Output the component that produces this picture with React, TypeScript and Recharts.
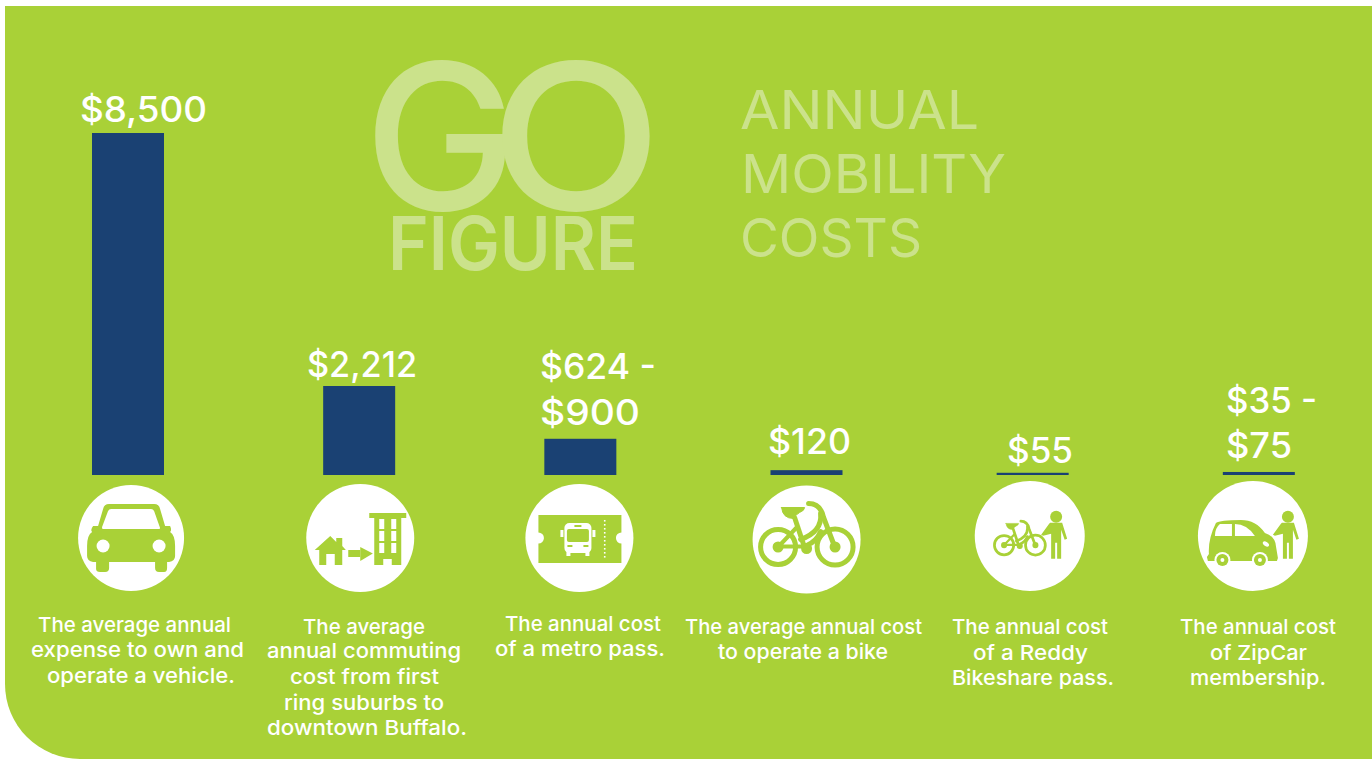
import { Bar, BarChart, LabelList, XAxis, YAxis } from "recharts";

const GREEN = "#a9d137";
const PALE = "#cbe28b";
const NAVY = "#1a4173";
const FONT = "Inter, sans-serif";

const categories = ["vehicle", "commute", "metro", "bike", "bikeshare", "zipcar"];
const barTops = [8500, 2212, 900, 120, 55, 75];
const valueLines = [["$8,500"], ["$2,212"], ["$624 -", "$900"], ["$120"], ["$55"], ["$35 -", "$75"]];
const captions = [
  ["The average annual", "expense to own and", "operate a vehicle."],
  ["The average", "annual commuting", "cost from first", "ring suburbs to", "downtown Buffalo."],
  ["The annual cost", "of a metro pass."],
  ["The average annual cost", "to operate a bike"],
  ["The annual cost", "of a Reddy", "Bikeshare pass."],
  ["The annual cost", "of ZipCar", "membership."],
];

const data = categories.map((name, i) => ({ name, top: barTops[i] }));

// hand placement, the original is a designed graphic and not quite on a grid
const barNudge = [0, 5, 0, 0, 0, 0];
const valueLayout = [
  { x: [80], w: [127], y: [122] },
  { x: [307], w: [110], y: [377] },
  { x: [540, 540], w: [116, 100], y: [379, 425] },
  { x: [768], w: [83], y: [454] },
  { x: [1007], w: [66], y: [463] },
  { x: [1226, 1226], w: [91, 66], y: [413, 458] },
];
const iconLayout = [
  { dx: 3, y: 538, r: 53 },
  { dx: 6, y: 538, r: 54 },
  { dx: -1, y: 538, r: 54 },
  { dx: 0, y: 539.5, r: 54 },
  { dx: -3, y: 536, r: 55 },
  { dx: -6, y: 536, r: 55 },
];
const captionLayout = [
  { x: [38, 31, 47], w: [193, 213, 188], y: [632, 657, 683] },
  { x: [303, 267, 290, 284, 267], w: [122, 194, 149, 160, 200], y: [634, 658, 684, 710, 735] },
  { x: [505, 495], w: [156, 170], y: [631, 656] },
  { x: [685, 718], w: [237, 170], y: [634, 659] },
  { x: [952, 973, 952], w: [156, 115, 162], y: [634, 660, 685] },
  { x: [1180, 1210, 1190], w: [156, 97, 136], y: [634, 660, 685] },
];

function CarIcon() {
  return (
    <g>
      <path
        fill={GREEN}
        d="M-22 -34Q-27 -34 -28 -29L-33 -12L-38 -12Q-41 -8 -39 -6Q-44 -3 -44 8L-44 18Q-44 23 -38 24L-35 24L-35 31Q-35 34 -31 34L-26 34Q-22 34 -22 30L-22 24L24 24L24 30Q24 34 28 34L33 34Q36 34 36 30L36 24L38 24Q44 23 44 18L44 8Q44 -3 39 -6Q41 -8 39 -12L34 -12L29 -29Q28 -34 23 -34Z"
      />
      <path fill="#fff" d="M-20 -29L20 -29Q22 -29 23 -27L29 -10Q29 -9 28 -9L-28 -9Q-29.5 -9 -29 -11L-23 -27Q-22 -29 -20 -29Z" />
      <circle cx={-28} cy={8} r={6.5} fill="#fff" />
      <circle cx={28} cy={8} r={6.5} fill="#fff" />
    </g>
  );
}

function CommuteIcon() {
  const cols = [19, 31];
  const rows = [-19, -7, 5];
  return (
    <g fill={GREEN}>
      <rect x={9} y={-25} width={37} height={5} />
      <rect x={14} y={-20} width={27} height={47} />
      {cols.map((x) => rows.map((y) => <rect key={`${x}${y}`} x={x} y={y} width={5} height={10} fill="#fff" />))}
      <rect x={23} y={21} width={8.5} height={6} fill="#fff" />
      <rect x={-12} y={12} width={12} height={7} />
      <path d="M0 9L12.6 15.5L0 23Z" />
      <path d="M-30 -2L-24 4L-24 0L-18 0L-18 8L-14.4 12L-18 12L-18 27L-25.5 27L-25.5 16L-34 16L-34 27L-41 27L-41 12L-45.5 12Z" />
    </g>
  );
}

function TicketIcon() {
  const dots = [-18, -14, -10, -6, -2, 2, 6, 10, 14, 18];
  return (
    <g>
      <rect x={-41} y={-23} width={83} height={48} fill={GREEN} />
      <circle cx={-41} cy={0} r={5.5} fill="#fff" />
      <circle cx={42} cy={0} r={5.5} fill="#fff" />
      <rect x={-15} y={-15} width={27} height={30} rx={5} fill="#fff" />
      <rect x={-13} y={14} width={4} height={4} fill="#fff" />
      <rect x={6} y={14} width={4} height={4} fill="#fff" />
      <rect x={-19} y={-8} width={3} height={7} fill="#fff" />
      <rect x={13} y={-8} width={3} height={7} fill="#fff" />
      <rect x={-12.5} y={-9} width={22} height={13} rx={2} fill={GREEN} />
      <rect x={-5} y={-13} width={7} height={2} fill={GREEN} />
      <rect x={-12} y={7} width={5} height={2} fill={GREEN} />
      <rect x={4} y={7} width={5} height={2} fill={GREEN} />
      {dots.map((y) => (
        <rect key={y} x={24.5} y={y} width={1.6} height={1.6} fill="#fff" />
      ))}
    </g>
  );
}

function BikeIcon() {
  return (
    <g fill="none" stroke={GREEN} strokeLinecap="round">
      <circle cx={-28.5} cy={7.5} r={17.5} strokeWidth={5} />
      <circle cx={28.5} cy={7.5} r={18} strokeWidth={5} />
      <circle cx={-28.5} cy={7.5} r={4} fill={GREEN} strokeWidth={3} />
      <circle cx={28.5} cy={7.5} r={4} fill={GREEN} strokeWidth={3} />
      <path d="M2 -36Q14 -36 17 -22L28 7" strokeWidth={5} />
      <path d="M-12 -22L-3 5" strokeWidth={5} />
      <path d="M14 -26Q16 -8 -6 0" strokeWidth={5} />
      <path d="M14 -8Q10 2 0 6" strokeWidth={5} />
      <path d="M-28 7L-10 -12M-28 7L-4 7" strokeWidth={4} />
      <path d="M-25 -32L-2 -32Q-2 -29 -7 -27Q-12 -24 -13 -21Q-24 -21 -25 -32Z" fill={GREEN} strokeWidth={1} />
      <circle cx={0} cy={9} r={4.5} fill={GREEN} strokeWidth={2} />
    </g>
  );
}

function PersonIcon() {
  return (
    <g fill={GREEN}>
      <circle cx={0} cy={0} r={6} />
      <path d="M-6 6L6 6L11 22L8.5 23L5 13L5 24L5 42L1 42L1 26L-1 26L-1 42L-5 42L-5 17L-13 19L-15 18L-7 7Z" />
    </g>
  );
}

function ZipCarIcon() {
  return (
    <g>
      <path fill={GREEN} d="M-37 -13Q-33 -16 -12 -16Q3 -16 12 -3Q22 0 23 10L25 22L24 25L-45 25L-46 21L-44 18Q-45 3 -37 -13Z" />
      <path fill="#fff" d="M-33 -12L-21 -12L-21 0L-38 0Q-38 -8 -33 -12Z" />
      <path fill="#fff" d="M-18 -12Q-6 -12 2 0L-18 0Z" />
      <ellipse cx={13} cy={8} rx={3.5} ry={2} fill="#fff" transform="rotate(35 13 8)" />
      {[-30.5, 7].map((x) => (
        <g key={x}>
          <circle cx={x} cy={24} r={8} fill="#fff" />
          <circle cx={x} cy={24} r={6} fill={GREEN} />
          <circle cx={x} cy={24} r={2} fill="#fff" />
        </g>
      ))}
    </g>
  );
}

function TickIcon({ index }: { index: number }) {
  if (index === 0) return <CarIcon />;
  if (index === 1) return <CommuteIcon />;
  if (index === 2) return <TicketIcon />;
  if (index === 3) return <BikeIcon />;
  if (index === 4)
    return (
      <g>
        <g transform="translate(-10 5) scale(0.55)">
          <BikeIcon />
        </g>
        <g transform="translate(26.4 -19.3)">
          <PersonIcon />
        </g>
      </g>
    );
  return (
    <g>
      <ZipCarIcon />
      <g transform="translate(35 -19.3)">
        <PersonIcon />
      </g>
    </g>
  );
}

function CategoryTick(props: any) {
  const { x, index } = props;
  const icon = iconLayout[index];
  const cap = captionLayout[index];
  return (
    <g>
      <g transform={`translate(${x + icon.dx} ${icon.y})`}>
        <circle r={icon.r} fill="#fff" />
        <TickIcon index={index} />
      </g>
      {captions[index].map((line, i) => (
        <text
          key={line}
          x={cap.x[i]}
          y={cap.y[i]}
          textLength={cap.w[i]}
          lengthAdjust="spacingAndGlyphs"
          fill="#fff"
          fontFamily={FONT}
          fontSize={20.5}
          fontWeight={500}
        >
          {line}
        </text>
      ))}
    </g>
  );
}

function ValueLabel(props: any) {
  const { index } = props;
  const layout = valueLayout[index];
  return (
    <g>
      {valueLines[index].map((line, i) => (
        <text
          key={line}
          x={layout.x[i]}
          y={layout.y[i]}
          textLength={layout.w[i]}
          lengthAdjust="spacingAndGlyphs"
          fill="#fff"
          fontFamily={FONT}
          fontSize={35}
          fontWeight={500}
        >
          {line}
        </text>
      ))}
    </g>
  );
}

function NudgedBar(props: any) {
  const { x, y, width, height, index, fill } = props;
  return <rect x={x + barNudge[index]} y={y} width={width} height={height} fill={fill} />;
}

function Heading() {
  return (
    <svg width={1372} height={759} style={{ position: "absolute", left: 0, top: 0 }} fontFamily={FONT} fill={PALE}>
      <text x={364} y={210} fontSize={204} fontWeight={500} textLength={153} lengthAdjust="spacingAndGlyphs">G</text>
      <text x={490} y={210} fontSize={204} fontWeight={500} textLength={172} lengthAdjust="spacingAndGlyphs">O</text>
      <text x={388} y={270} fontSize={74} fontWeight={600} textLength={250} lengthAdjust="spacingAndGlyphs">FIGURE</text>
      <text x={740} y={129} fontSize={54} fontWeight={400} textLength={239} lengthAdjust="spacingAndGlyphs">ANNUAL</text>
      <text x={741} y={193} fontSize={54} fontWeight={400} textLength={265} lengthAdjust="spacingAndGlyphs">MOBILITY</text>
      <text x={740} y={257} fontSize={54} fontWeight={400} textLength={182} lengthAdjust="spacingAndGlyphs">COSTS</text>
    </svg>
  );
}

export default function App() {
  return (
    <div style={{ position: "absolute", left: 0, top: 0, width: 1372, height: 759, background: "#fff", overflow: "hidden" }}>
      <div style={{ position: "absolute", left: 5, top: 6, width: 1367, height: 753, background: GREEN, borderBottomLeftRadius: 75 }} />
      <Heading />
      <div style={{ position: "absolute", left: 0, top: 0 }}>
        <BarChart width={1372} height={759} data={data} margin={{ top: 133, right: 0, bottom: 0, left: 15 }} barSize={72}>
          <XAxis dataKey="name" height={284} interval={0} axisLine={false} tickLine={false} tick={<CategoryTick />} />
          <YAxis hide domain={[0, 8500]} />
          <Bar dataKey="top" fill={NAVY} isAnimationActive={false} shape={<NudgedBar />}>
            <LabelList dataKey="top" content={<ValueLabel />} />
          </Bar>
        </BarChart>
      </div>
    </div>
  );
}
